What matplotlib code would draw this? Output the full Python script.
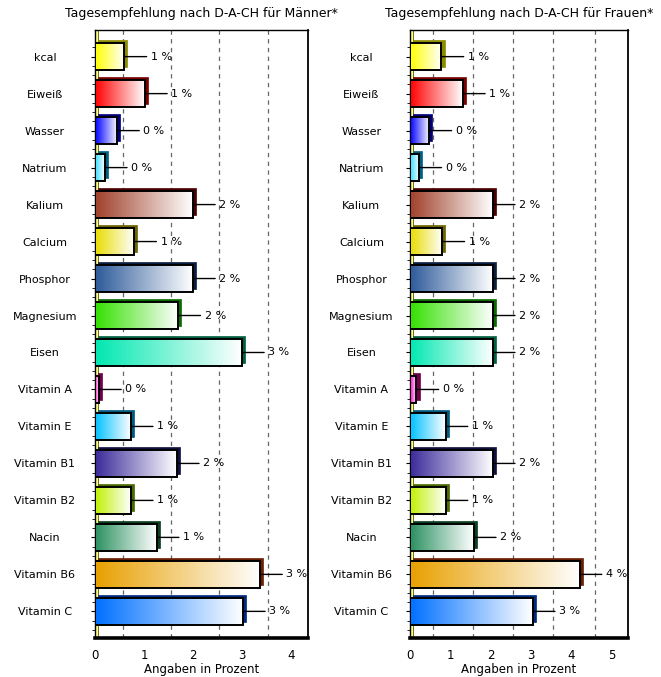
import numpy as np
import matplotlib
matplotlib.use("Agg")
import matplotlib.pyplot as plt
from matplotlib.colors import LinearSegmentedColormap
from matplotlib.patches import Rectangle
from matplotlib.transforms import offset_copy

plt.rcParams['font.family'] = ['DejaVu Sans']

categories = ["kcal", "Eiweiß", "Wasser", "Natrium", "Kalium", "Calcium",
              "Phosphor", "Magnesium", "Eisen", "Vitamin A", "Vitamin E",
              "Vitamin B1", "Vitamin B2", "Nacin", "Vitamin B6", "Vitamin C"]

# share of the daily recommendation in percent
men_pct = [0.60, 1.02, 0.45, 0.20, 2.00, 0.80, 2.00, 1.70, 3.00, 0.08,
           0.73, 1.67, 0.73, 1.26, 3.37, 3.02]
women_pct = [0.78, 1.31, 0.48, 0.23, 2.05, 0.80, 2.05, 2.05, 2.05, 0.16,
             0.88, 2.05, 0.88, 1.58, 4.20, 3.04]

men_ticks = [0, 1, 2, 3, 4]
women_ticks = [0, 1, 2, 3, 4, 5]
men_grid = [0.57, 1.56, 2.54, 3.53]
women_grid = [0.57, 1.55, 2.54, 3.55, 4.58]

title_men = "Tagesempfehlung nach D-A-CH für Männer*"
title_women = "Tagesempfehlung nach D-A-CH für Frauen*"
x_label = "Angaben in Prozent"

bar_colors = ["#ffff00", "#ff0000", "#0000ff", "#33ddff", "#a0402a", "#e8dc00",
              "#2d5a9a", "#33e000", "#00e8b0", "#ff00cc", "#00c0ff", "#3a2a9a",
              "#c0f000", "#2a9060", "#e8a000", "#0070ff"]
side_colors = ["#8b8b00", "#7a0000", "#00007a", "#006080", "#4a0000", "#6b6400",
               "#0a1f40", "#0a6a00", "#006040", "#70004a", "#005a80", "#101040",
               "#4a6a00", "#0a4020", "#6a2000", "#002a80"]

fig = plt.figure(figsize=(6.61, 6.77), dpi=100)


def draw_panel(rect, values, xmax, grid_x, ticks, title, label_pad):
    ax = fig.add_axes(rect)
    n = len(categories)
    h = 0.72
    shadow_tr = offset_copy(ax.transData, fig=fig, x=2.2, y=2.2, units='points')
    grad = np.linspace(0, 1, 256).reshape(1, -1)

    # dashed grid on the back wall
    for gx in grid_x:
        ax.axvline(gx, color="#666666", lw=0.9, ls=(0, (3.5, 3.5)), zorder=1)

    # yellow side wall along the category axis
    ax.add_patch(Rectangle((0, 0), 0.013, 1, transform=ax.transAxes,
                           facecolor="#ffff88", edgecolor="#555500", lw=0.6,
                           zorder=2, clip_on=False))

    for i, (v, c, s) in enumerate(zip(values, bar_colors, side_colors)):
        ax.add_patch(Rectangle((0, i - h / 2), v, h, transform=shadow_tr,
                               facecolor=s, edgecolor=s, lw=0.5, zorder=3))
        cmap = LinearSegmentedColormap.from_list("fade", [c, "#ffffff"])
        ax.imshow(grad, cmap=cmap, extent=(0, v, i + h / 2, i - h / 2),
                  aspect="auto", interpolation="bilinear", zorder=4)
        ax.add_patch(Rectangle((0, i - h / 2), v, h, fill=False,
                               edgecolor="black", lw=1.4, zorder=5))
        ax.annotate("", xy=(v, i), xytext=(16, 0), textcoords="offset points",
                    arrowprops=dict(arrowstyle="-", color="black", lw=1.0,
                                    shrinkA=0, shrinkB=0), zorder=5)
        ax.annotate(f"{round(v)} %", xy=(v, i), xytext=(19, 0),
                    textcoords="offset points", va="center", ha="left",
                    fontsize=8, zorder=6, annotation_clip=False)

    ax.set_xlim(0, xmax)
    ax.set_ylim(n - 1 + 0.72, -0.72)

    ax.set_yticks(range(n))
    ax.set_yticklabels(categories, fontsize=8, ha="center")
    minor = []
    for i in range(n):
        minor += [i - 0.25, i + 0.25, i + 0.5]
    ax.set_yticks(minor, minor=True)
    ax.tick_params(axis="y", which="major", length=3, pad=label_pad)
    ax.tick_params(axis="y", which="minor", length=2)

    ax.set_xticks(ticks)
    ax.set_xticklabels([str(t) for t in ticks], fontsize=8.5)
    ax.tick_params(axis="x", length=0, pad=8)
    ax.set_xlabel(x_label, fontsize=8.5, labelpad=1)
    ax.set_title(title, fontsize=9, pad=9)

    ax.spines["left"].set_linewidth(1.0)
    ax.spines["top"].set_linewidth(1.0)
    ax.spines["right"].set_linewidth(1.3)
    ax.spines["bottom"].set_linewidth(2.6)
    return ax


draw_panel([95 / 661, 39 / 677, 213 / 661, 608 / 677], men_pct, 4.35,
           men_grid, men_ticks, title_men, 33)
draw_panel([410 / 661, 39 / 677, 218 / 661, 608 / 677], women_pct, 5.4,
           women_grid, women_ticks, title_women, 32)

fig.savefig("out.png", dpi=100)
